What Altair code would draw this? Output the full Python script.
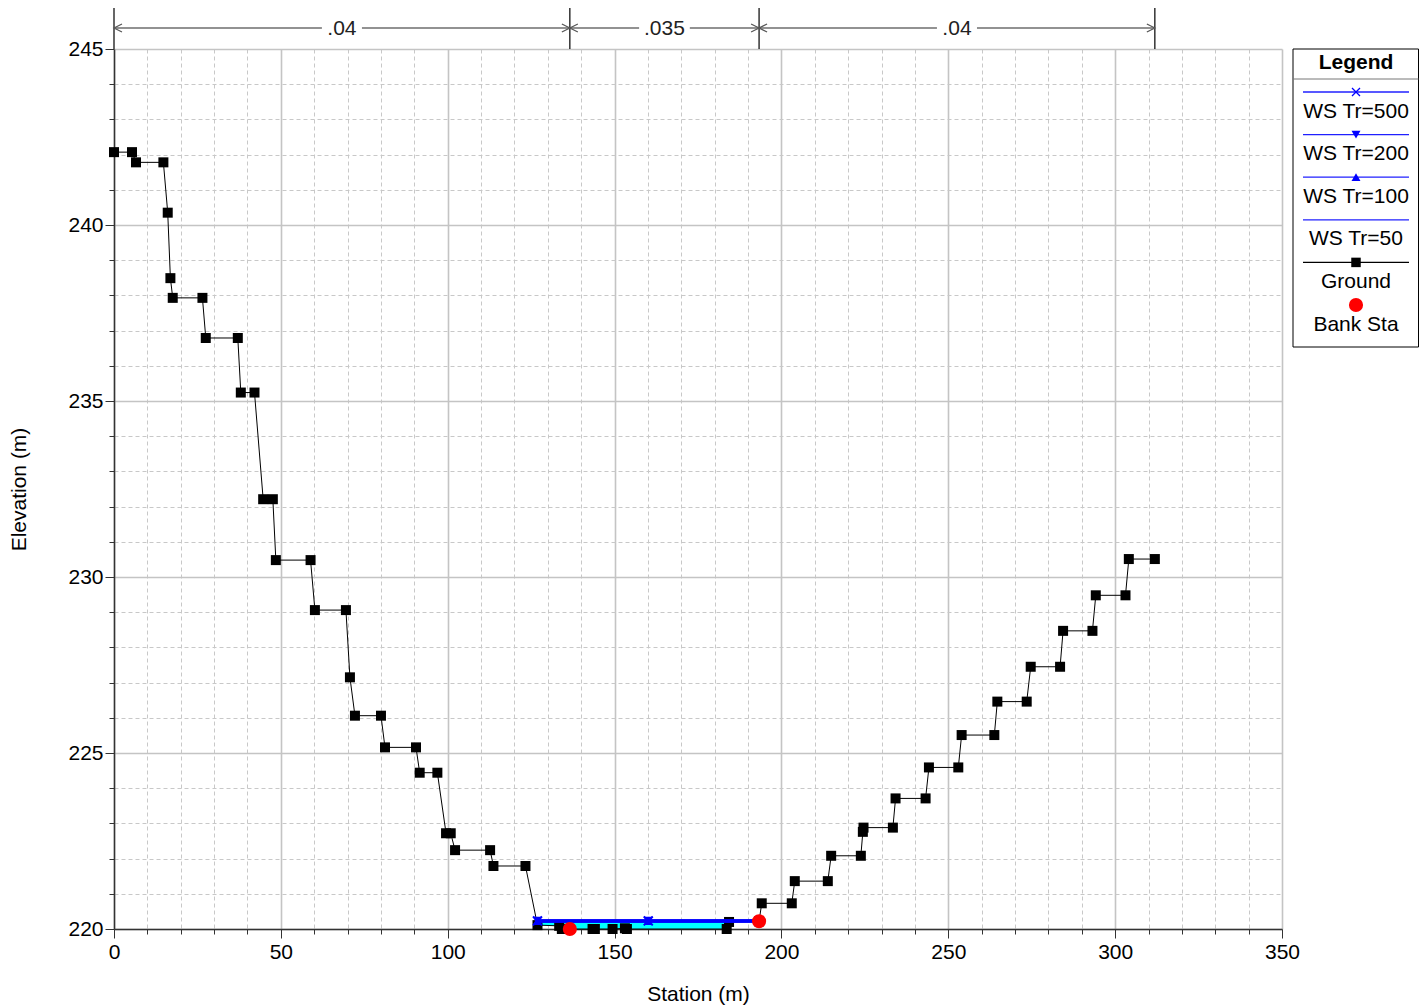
import altair as alt
import pandas as pd

# ---------------- data ----------------
ground_sta = [0, 5.4, 6.6, 14.8, 16.1, 16.9, 17.6, 26.5, 27.5, 37.1, 38.0, 42.1, 44.7, 47.6,
              48.5, 58.9, 60.2, 69.5, 70.7, 72.2, 80.0, 81.2, 90.5, 91.6, 96.9, 99.5, 100.9,
              102.2, 112.7, 113.7, 123.3, 126.9, 133.4, 134.2, 136.6, 143.4, 144.1, 149.4,
              153.1, 153.7, 183.6, 184.3, 193.3, 194.1, 203.1, 204.0, 213.9, 214.9, 223.8,
              224.4, 224.6, 233.4, 234.2, 243.2, 244.2, 253.0, 254.0, 263.8, 264.7, 273.5,
              274.7, 283.5, 284.4, 293.2, 294.2, 303.1, 304.1, 311.9]
ground_elev = [242.07, 242.07, 241.78, 241.78, 240.35, 238.49, 237.93, 237.93, 236.79, 236.79,
               235.24, 235.24, 232.21, 232.21, 230.48, 230.48, 229.06, 229.06, 227.15, 226.06,
               226.06, 225.16, 225.16, 224.44, 224.44, 222.72, 222.72, 222.24, 222.24, 221.79,
               221.79, 220.11, 220.09, 220.0, 220.0, 220.0, 220.0, 220.0, 220.02, 220.0,
               220.0, 220.2, 220.22, 220.73, 220.73, 221.36, 221.36, 222.08, 222.08,
               222.76, 222.88, 222.88, 223.71, 223.71, 224.59, 224.59, 225.51, 225.51, 226.46,
               226.46, 227.45, 227.45, 228.47, 228.47, 229.48, 229.48, 230.51, 230.51]

bank_sta = [136.6, 193.3]
bank_elev = [220.0, 220.22]

ws_names = ["WS Tr=500", "WS Tr=200", "WS Tr=100", "WS Tr=50"]
ws_elev = [220.23, 220.23, 220.23, 220.23]
ws_point_sta = [126.9, 160.1, 193.3]

manning_n = [".04", ".035", ".04"]
manning_sta = [0, 136.6, 193.3, 311.9]

x_ticks = list(range(0, 351, 10))
y_ticks = list(range(220, 246))

# ---------------- style ----------------
F = "Liberation Sans"
W, H = 1168, 880


def cond(test, a, b):
    return {"condition": {"test": test, "value": a}, "value": b}


xt = "datum.value % 50 === 0"
yt = "datum.value % 5 === 0"

xaxis = alt.Axis(
    values=x_ticks, labelExpr=f"{xt} ? datum.label : ''", labelOverlap=False, labelFlush=False,
    tickSize=cond(xt, 9, 5), gridDash=cond(xt, [], [4, 3]),
    gridColor=cond(xt, "#c4c4c4", "#c8c8c8"), gridWidth=cond(xt, 1.6, 1),
    labelPadding=3, titleX=584, titleY=65, titleBaseline="middle", titleAlign="center",
)
yaxis = alt.Axis(
    values=y_ticks, labelExpr=f"{yt} ? datum.label : ''", labelOverlap=False, labelFlush=False,
    tickSize=cond(yt, 9, 5), gridDash=cond(yt, [], [4, 3]),
    gridColor=cond(yt, "#c4c4c4", "#c8c8c8"), gridWidth=cond(yt, 1.6, 1),
    labelPadding=2, titleX=-95, titleY=440, titleAngle=270, titleBaseline="middle",
    titleAlign="center",
)
xscale = alt.Scale(domain=[0, 350], nice=False, zero=False)
yscale = alt.Scale(domain=[220, 245], nice=False, zero=False)


def X(f):
    return alt.X(f, scale=xscale, axis=xaxis, title="Station (m)")


def Y(f):
    return alt.Y(f, scale=yscale, axis=yaxis, title="Elevation (m)")


# ---------------- frames ----------------
ground = pd.DataFrame({"sta": ground_sta, "elev": ground_elev})
ws_top = max(ws_elev)
ws_l, ws_r = min(ws_point_sta), max(ws_point_sta)
chan = ground[(ground.sta >= ws_l) & (ground.sta <= ws_r)].copy()
chan["ws"] = ws_top

ws_lines = pd.DataFrame([{"name": n, "sta": s, "elev": e}
                         for n, e in zip(ws_names, ws_elev) for s in (ws_l, ws_r)])
ws_pts = pd.DataFrame([{"name": n, "sta": s, "elev": e}
                       for n, e in zip(ws_names, ws_elev) for s in ws_point_sta])
banks = pd.DataFrame({"sta": bank_sta, "elev": bank_elev})
segs = pd.DataFrame({"n": manning_n, "sta": manning_sta[:-1], "sta2": manning_sta[1:]})
segs["mid"] = (segs.sta + segs.sta2) / 2
rules_df = pd.DataFrame({"sta": manning_sta})

layers = []
layers.append(alt.Chart(chan).mark_area(color="#00ffff", opacity=1).encode(
    x=X("sta:Q"), y=Y("elev:Q"), y2="ws:Q"))
layers.append(alt.Chart(ground).mark_line(color="black", strokeWidth=1).encode(
    x=X("sta:Q"), y=Y("elev:Q")))
layers.append(alt.Chart(ground).mark_point(shape="square", filled=True, size=100,
                                           color="black", opacity=1).encode(
    x=X("sta:Q"), y=Y("elev:Q")))
layers.append(alt.Chart(ws_lines).mark_line(color="#0000ff", strokeWidth=3).encode(
    x=X("sta:Q"), y=Y("elev:Q"), detail="name:N"))

shapes = {"WS Tr=500": "M -1 -1 L 1 1 M -1 1 L 1 -1",
          "WS Tr=200": "triangle-down", "WS Tr=100": "triangle-up"}
for nm, shp in shapes.items():
    d = ws_pts[ws_pts.name == nm]
    if shp.startswith("M"):
        mk = alt.Chart(d).mark_point(shape=shp, filled=False, size=80, color="#0000ff",
                                     strokeWidth=2, opacity=1)
    else:
        mk = alt.Chart(d).mark_point(shape=shp, filled=True, size=90, color="#0000ff",
                                     opacity=1)
    layers.append(mk.encode(x=X("sta:Q"), y=Y("elev:Q")))

layers.append(alt.Chart(banks).mark_circle(size=200, color="#ff0000", opacity=1).encode(
    x=X("sta:Q"), y=Y("elev:Q")))

# Manning's n annotation
layers.append(alt.Chart(rules_df).mark_rule(color="black", strokeWidth=1.2).encode(
    x=X("sta:Q"), y=alt.value(-41), y2=alt.value(0)))
layers.append(alt.Chart(segs).mark_rule(color="#6e6e6e", strokeWidth=1.6).encode(
    x=X("sta:Q"), x2="sta2:Q", y=alt.value(-21)))
layers.append(alt.Chart(segs).transform_calculate(
    g1="datum.mid - (1.6 * length(datum.n) + 1.2)",
    g2="datum.mid + (1.6 * length(datum.n) + 1.2)").mark_rect(color="white", opacity=1).encode(
    x=X("g1:Q"), x2="g2:Q", y=alt.value(-32), y2=alt.value(-10)))
layers.append(alt.Chart(segs).mark_text(font=F, fontSize=21, color="#222222",
                                        baseline="middle", align="center").encode(
    x=X("mid:Q"), y=alt.value(-20), text="n:N"))
layers.append(alt.Chart(segs).mark_point(shape="M 2 -1 L 0 0 L 2 1", size=64, filled=False,
                                         color="#555555", strokeWidth=1.2, opacity=1).encode(
    x=X("sta:Q"), y=alt.value(-21)))
layers.append(alt.Chart(segs).mark_point(shape="M -2 -1 L 0 0 L -2 1", size=64, filled=False,
                                         color="#555555", strokeWidth=1.2, opacity=1).encode(
    x=X("sta2:Q"), y=alt.value(-21)))

# ---------------- legend (drawn) ----------------
one = pd.DataFrame({"k": [0]})
LX0, LX1, LC = 1179, 1304.5, 1242
layers.append(alt.Chart(one).mark_rect(fill="white", stroke="black", strokeWidth=1).encode(
    x=alt.value(LX0), x2=alt.value(LX1), y=alt.value(0), y2=alt.value(298)))
layers.append(alt.Chart(one).mark_text(font=F, fontSize=21, fontWeight="bold", color="black",
                                       align="center", baseline="middle").encode(
    x=alt.value(LC), y=alt.value(14), text=alt.value("Legend")))
layers.append(alt.Chart(one).mark_rule(color="#777777", strokeWidth=1).encode(
    x=alt.value(LX0), x2=alt.value(LX1), y=alt.value(30)))

entries = [(n, "#2020ff", shapes.get(n)) for n in ws_names] + \
          [("Ground", "black", "square"), ("Bank Sta", "#ff0000", "circle")]
for i, (nm, col, shp) in enumerate(entries):
    ly = 43 + 42.6 * i
    if nm != "Bank Sta":
        layers.append(alt.Chart(one).mark_rule(color=col, strokeWidth=1.3).encode(
            x=alt.value(1189), x2=alt.value(1295), y=alt.value(ly)))
    if shp is not None:
        if shp.startswith("M"):
            m = alt.Chart(one).mark_point(shape=shp, filled=False, size=64, color="#0000ff",
                                          strokeWidth=1.3, opacity=1)
        elif shp == "circle":
            m = alt.Chart(one).mark_circle(size=200, color="#ff0000", opacity=1)
        elif shp == "square":
            m = alt.Chart(one).mark_point(shape="square", filled=True, size=90, color="black",
                                          opacity=1)
        else:
            m = alt.Chart(one).mark_point(shape=shp, filled=True, size=80, color="#0000ff",
                                          opacity=1)
        layers.append(m.encode(x=alt.value(LC), y=alt.value(ly)))
    layers.append(alt.Chart(one).mark_text(font=F, fontSize=21, color="black", align="center",
                                           baseline="middle").encode(
        x=alt.value(LC), y=alt.value(ly + 19.5), text=alt.value(nm)))

chart = alt.layer(*layers).properties(
    width=W, height=H,
    autosize=alt.AutoSizeParams(type="none"),
    padding={"left": 106, "top": 41, "right": 137, "bottom": 78},
).configure_view(stroke=None).configure_axis(
    domainColor="#333333", domainWidth=1.5, tickColor="#333333", tickWidth=1,
    labelFont=F, labelFontSize=21, labelColor="black",
    titleFont=F, titleFontSize=21, titleFontWeight="normal", titleColor="black",
)

chart.save("out.html", embed_options={"renderer": "svg", "actions": False})
